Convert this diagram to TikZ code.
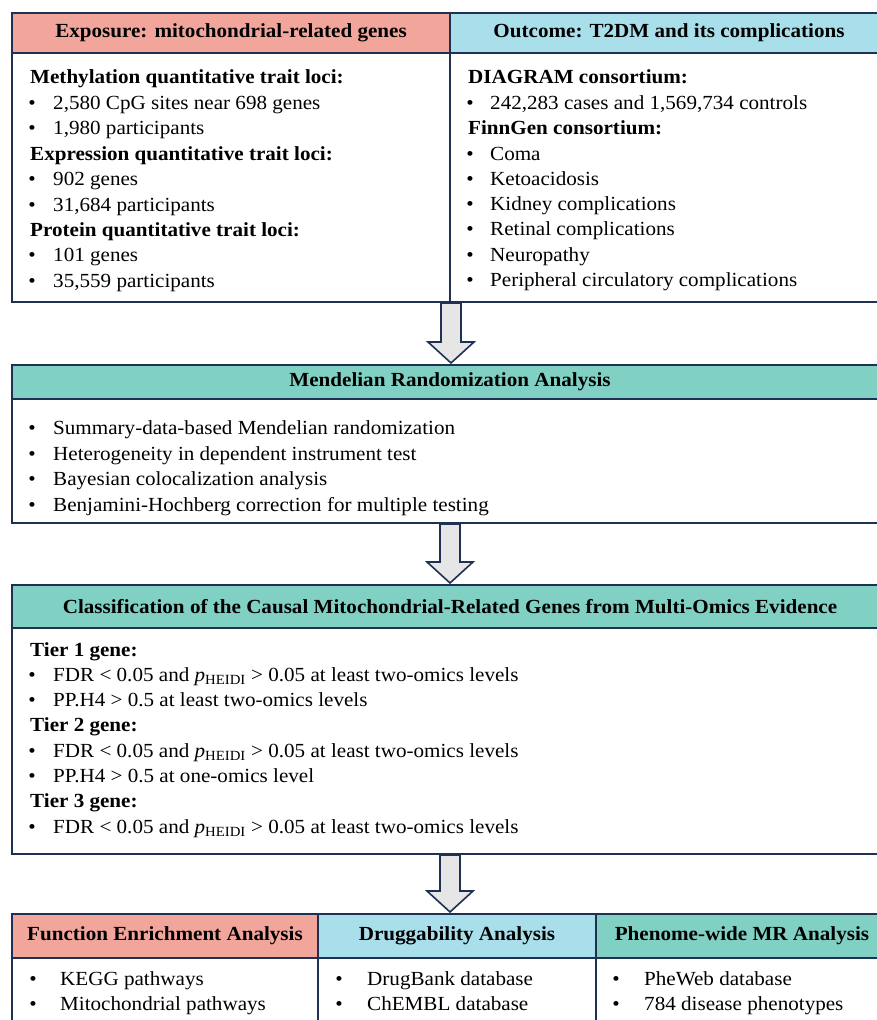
\documentclass[tikz,border=0pt]{standalone}
\usepackage{fontspec}
\setmainfont[FakeStretch=1.055]{Liberation Serif}
\usetikzlibrary{calc}
\definecolor{navy}{HTML}{1F3152}
\definecolor{salmon}{HTML}{F2A69B}
\definecolor{skyb}{HTML}{A9DEEB}
\definecolor{tealc}{HTML}{80D0C3}
\definecolor{arrowgray}{HTML}{E6E6E6}
\newcommand\bitem[5]{%
  \node[bultxt,name=#1b] at (#2,#4) {\textbullet};
  \node[txt,name=#1] at (#3,#4) {#5};}
\newcommand\hitem[4]{\node[txt,font=\fontsize{20}{24}\selectfont\bfseries,name=#1] at (#2,#3) {#4};}
\newcommand\blockarrow[2]{%
  \path let \p1=(#1), \p2=(#2) in
  [draw=navy,line width=1.6pt,fill=arrowgray,line join=miter]
  (\x1-10pt,\y1) -- (\x1-10pt,\y2+22pt) -- (\x1-23pt,\y2+22pt) -- (\x1,\y2+1pt)
  -- (\x1+23pt,\y2+22pt) -- (\x1+10pt,\y2+22pt) -- (\x1+10pt,\y1) -- cycle;}
\newcommand\pheidi{\textit{p}\textsubscript{HEIDI}}
\begin{document}
\begin{tikzpicture}[x=1pt,y=-1pt,
  box/.style={draw=navy,line width=2pt,inner sep=0pt,minimum width=#1,anchor=north west},
  txt/.style={anchor=base west,inner sep=0pt,font=\fontsize{20}{24}\selectfont},
  bultxt/.style={anchor=base,inner sep=0pt,font=\fontsize{20}{24}\selectfont},
  headtxt/.style={font=\fontsize{20}{24}\selectfont\bfseries}]
\useasboundingbox (0,0) rectangle (876,1020);
\fill[white] (0,0) rectangle (876,1020);
% top boxes
\node[box=438pt,minimum height=40pt,fill=salmon,headtxt] (h1) at (11,12) {Exposure: mitochondrial-related genes};
\node[box=438pt,minimum height=249pt] (b1) at (11,52) {};
\node[box=438pt,minimum height=40pt,fill=skyb,headtxt] (h2) at (449,12) {Outcome: T2DM and its complications};
\node[box=438pt,minimum height=249pt] (b2) at (449,52) {};
% MR
\node[box=876pt,minimum height=34pt,fill=tealc,headtxt] (h3) at (11,364) {Mendelian Randomization Analysis};
\node[box=876pt,minimum height=124pt] (b3) at (11,398) {};
% classification
\node[box=876pt,minimum height=43pt,fill=tealc,headtxt] (h4) at (11,584) {Classification of the Causal Mitochondrial-Related Genes from Multi-Omics Evidence};
\node[box=876pt,minimum height=226pt] (b4) at (11,627) {};
% bottom
\node[box=306pt,minimum height=44pt,fill=salmon,headtxt] (h5) at (11,913) {Function Enrichment Analysis};
\node[box=278pt,minimum height=44pt,fill=skyb,headtxt] (h6) at (317,913) {Druggability Analysis};
\node[box=292pt,minimum height=44pt,fill=tealc,headtxt] (h7) at (595,913) {Phenome-wide MR Analysis};
\node[box=306pt,minimum height=80pt] (b5) at (11,957) {};
\node[box=278pt,minimum height=80pt] (b6) at (317,957) {};
\node[box=292pt,minimum height=80pt] (b7) at (595,957) {};
% arrows
\coordinate (a1s) at (b1.south east);
\blockarrow{a1s}{h3.north}
\blockarrow{b3.south}{h4.north}
\coordinate (a3e) at (b3.south |- h6.north);
\blockarrow{b4.south}{a3e}
% left top text
\hitem{t1}{30}{83.5}{Methylation quantitative trait loci:}
\bitem{t2}{32}{53}{109}{2,580 CpG sites near 698 genes}
\bitem{t3}{32}{53}{134.5}{1,980 participants}
\hitem{t4}{30}{160}{Expression quantitative trait loci:}
\bitem{t5}{32}{53}{185.5}{902 genes}
\bitem{t6}{32}{53}{211}{31,684 participants}
\hitem{t7}{30}{236}{Protein quantitative trait loci:}
\bitem{t8}{32}{53}{261.5}{101 genes}
\bitem{t9}{32}{53}{287}{35,559 participants}
% right top text
\hitem{r1}{468}{83.5}{DIAGRAM consortium:}
\bitem{r2}{470}{490}{109}{242,283 cases and 1,569,734 controls}
\hitem{r3}{468}{134.5}{FinnGen consortium:}
\bitem{r4}{470}{490}{160}{Coma}
\bitem{r5}{470}{490}{185}{Ketoacidosis}
\bitem{r6}{470}{490}{210.5}{Kidney complications}
\bitem{r7}{470}{490}{235.5}{Retinal complications}
\bitem{r8}{470}{490}{261}{Neuropathy}
\bitem{r9}{470}{490}{286.5}{Peripheral circulatory complications}
% MR text
\bitem{m1}{32}{53}{434.5}{Summary-data-based Mendelian randomization}
\bitem{m2}{32}{53}{460}{Heterogeneity in dependent instrument test}
\bitem{m3}{32}{53}{485.5}{Bayesian colocalization analysis}
\bitem{m4}{32}{53}{511}{Benjamini-Hochberg correction for multiple testing}
% classification text
\hitem{c1}{30}{656}{Tier 1 gene:}
\bitem{c2}{32}{53}{681}{FDR < 0.05 and \pheidi{} > 0.05 at least two-omics levels}
\bitem{c3}{32}{53}{706.5}{PP.H4 > 0.5 at least two-omics levels}
\hitem{c4}{30}{731.5}{Tier 2 gene:}
\bitem{c5}{32}{53}{757}{FDR < 0.05 and \pheidi{} > 0.05 at least two-omics levels}
\bitem{c6}{32}{53}{782}{PP.H4 > 0.5 at one-omics level}
\hitem{c7}{30}{807.5}{Tier 3 gene:}
\bitem{c8}{32}{53}{833}{FDR < 0.05 and \pheidi{} > 0.05 at least two-omics levels}
% bottom text
\bitem{f1}{33}{60}{985.5}{KEGG pathways}
\bitem{f2}{33}{60}{1010.5}{Mitochondrial pathways}
\bitem{d1}{339}{367}{985.5}{DrugBank database}
\bitem{d2}{339}{367}{1010.5}{ChEMBL database}
\bitem{p1}{616}{644}{985.5}{PheWeb database}
\bitem{p2}{616}{644}{1010.5}{784 disease phenotypes}
\end{tikzpicture}
\end{document}
